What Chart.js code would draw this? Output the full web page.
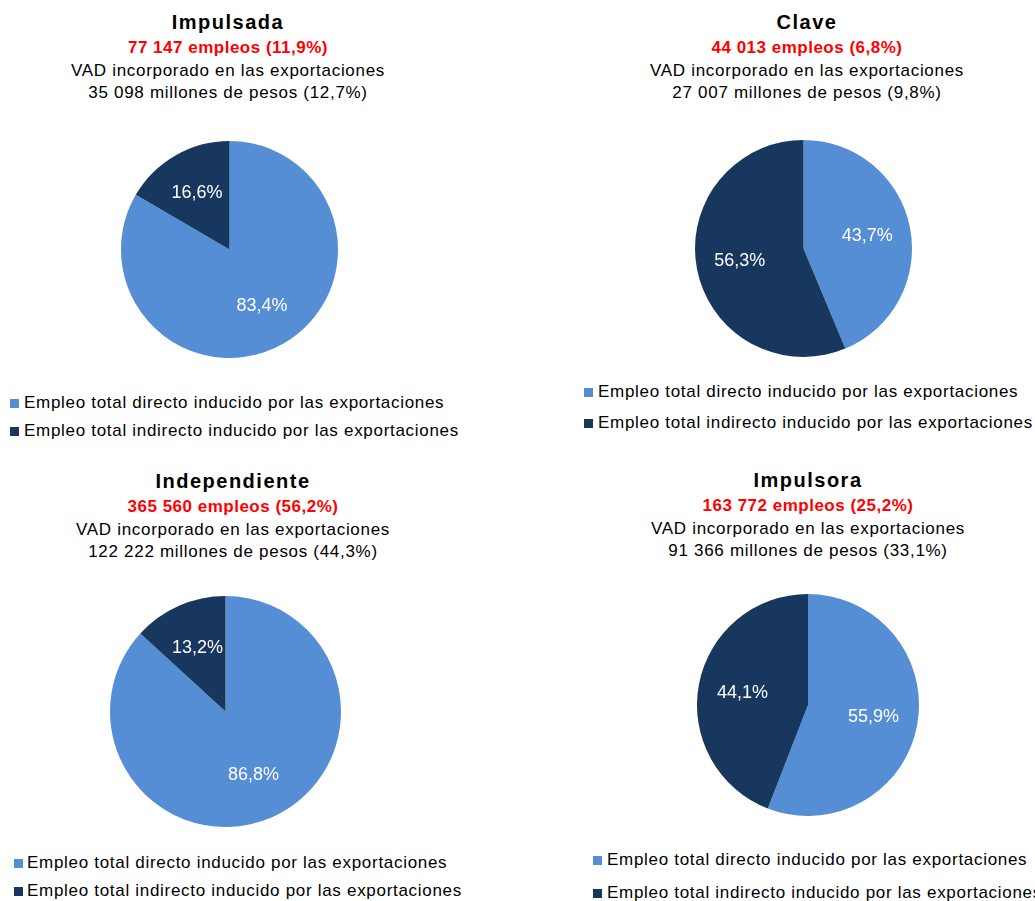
<!DOCTYPE html>
<html>
<head>
<meta charset="utf-8">
<script src="https://cdn.jsdelivr.net/npm/chart.js@4/dist/chart.umd.min.js"></script>
<style>
  html, body { margin: 0; padding: 0; background: #fff; }
  body { width: 1035px; height: 901px; position: relative; overflow: hidden; font-family: "Liberation Sans", Arial, sans-serif; color: #000; }
  .head { position: absolute; width: 440px; text-align: center; white-space: nowrap; }
  .head .t { font-size: 20px; font-weight: bold; line-height: 28px; letter-spacing: 1.5px; }
  .head .r { font-size: 17px; font-weight: bold; line-height: 24px; color: #ff0000; letter-spacing: 0.5px; }
  .head .b { font-size: 17px; line-height: 22px; letter-spacing: 0.7px; }
  canvas { position: absolute; }
  .leg { position: absolute; white-space: nowrap; font-size: 17px; letter-spacing: 0.7px; line-height: 20px; }
  .leg i { position: absolute; width: 9px; height: 9px; }
</style>
</head>
<body>
<script>
// datos
const categories = ['Impulsada', 'Clave', 'Independiente', 'Impulsora'];
const empleos = [77147, 44013, 365560, 163772];
const empleosPct = ['11,9', '6,8', '56,2', '25,2'];
const vadMillones = [35098, 27007, 122222, 91366];
const vadPct = ['12,7', '9,8', '44,3', '33,1'];
const directo = [83.4, 43.7, 86.8, 55.9];
const indirecto = [16.6, 56.3, 13.2, 44.1];
const seriesLabels = [
  'Empleo total directo inducido por las exportaciones',
  'Empleo total indirecto inducido por las exportaciones'
];
const colors = ['#558ed5', '#17375e'];

// layout of each panel
const panels = [
  { cx: 229.5, cy: 249, r: 108.5, hx: 228, hy: 8,   sq: 10,  tx: 24,  rows: [403, 431] },
  { cx: 803.5, cy: 248.5, r: 108.5, hx: 807, hy: 8, sq: 584, tx: 598, rows: [392, 423] },
  { cx: 225.5, cy: 711, r: 115.5, hx: 233, hy: 467, sq: 14,  tx: 27,  rows: [863, 890.5] },
  { cx: 807.5, cy: 704.5, r: 111, hx: 808, hy: 466, sq: 593, tx: 607, rows: [860, 893] }
];

const fmt = n => String(n).replace(/\B(?=(\d{3})+(?!\d))/g, ' ');
const pct = v => v.toFixed(1).replace('.', ',') + '%';

const sliceLabels = {
  id: 'sliceLabels',
  afterDatasetsDraw(chart) {
    const ctx = chart.ctx;
    const meta = chart.getDatasetMeta(0);
    const data = chart.data.datasets[0].data;
    ctx.save();
    ctx.fillStyle = '#fff';
    ctx.font = '18px "Liberation Sans", Arial, sans-serif';
    ctx.textAlign = 'center';
    ctx.textBaseline = 'middle';
    meta.data.forEach((arc, i) => {
      const p = arc.getProps(['x', 'y', 'startAngle', 'endAngle', 'outerRadius'], true);
      const a = (p.startAngle + p.endAngle) / 2;
      const d = p.outerRadius * 0.6;
      ctx.fillText(pct(data[i]), p.x + Math.cos(a) * d, p.y + Math.sin(a) * d);
    });
    ctx.restore();
  }
};

categories.forEach((name, k) => {
  const P = panels[k];

  const head = document.createElement('div');
  head.className = 'head';
  head.style.left = (P.hx - 220) + 'px';
  head.style.top = P.hy + 'px';
  head.innerHTML =
    '<div class="t">' + name + '</div>' +
    '<div class="r">' + fmt(empleos[k]) + ' empleos (' + empleosPct[k] + '%)</div>' +
    '<div class="b">VAD incorporado en las exportaciones</div>' +
    '<div class="b">' + fmt(vadMillones[k]) + ' millones de pesos (' + vadPct[k] + '%)</div>';
  document.body.appendChild(head);

  const size = Math.round(P.r * 2);
  const cv = document.createElement('canvas');
  cv.width = size; cv.height = size;
  cv.style.width = size + 'px'; cv.style.height = size + 'px';
  cv.style.left = (P.cx - size / 2) + 'px';
  cv.style.top = (P.cy - size / 2) + 'px';
  document.body.appendChild(cv);

  new Chart(cv.getContext('2d'), {
    type: 'pie',
    data: {
      labels: seriesLabels,
      datasets: [{
        data: [directo[k], indirecto[k]],
        backgroundColor: colors,
        borderWidth: 0
      }]
    },
    options: {
      responsive: false,
      animation: false,
      layout: { padding: 0 },
      plugins: { legend: { display: false }, tooltip: { enabled: false } }
    },
    plugins: [sliceLabels]
  });

  seriesLabels.forEach((lab, j) => {
    const row = document.createElement('div');
    row.className = 'leg';
    row.style.left = P.tx + 'px';
    row.style.top = (P.rows[j] - 10) + 'px';
    row.innerHTML = '<i style="background:' + colors[j] + ';left:' + (P.sq - P.tx) + 'px;top:6px"></i>' + lab;
    document.body.appendChild(row);
  });
});
</script>
</body>
</html>
